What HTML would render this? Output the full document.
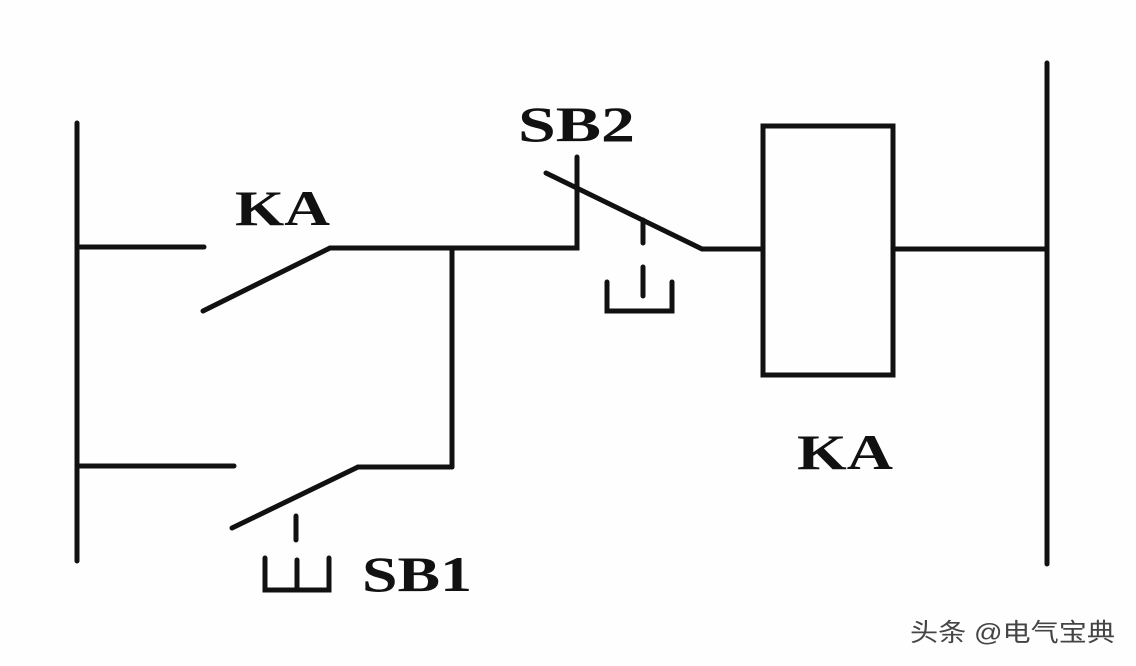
<!DOCTYPE html>
<html><head><meta charset="utf-8"><style>
html,body{margin:0;padding:0;background:#fff;}
svg{display:block}
</style></head><body>
<svg width="1136" height="666" viewBox="0 0 1136 666" xmlns="http://www.w3.org/2000/svg">
<rect width="1136" height="666" fill="#fefefe"/>
<g stroke="#111" stroke-width="5" fill="none" stroke-linecap="round" stroke-linejoin="miter">
<line x1="77" y1="123" x2="77" y2="561"/>
<line x1="1047" y1="63" x2="1047" y2="564"/>
<line x1="80" y1="247" x2="204" y2="247"/>
<line x1="203" y1="311" x2="330" y2="248"/>
<polyline points="330,248 577,248 577,157"/>
<line x1="452" y1="248" x2="452" y2="467"/>
<line x1="80" y1="466" x2="234" y2="466"/>
<line x1="232" y1="528" x2="358" y2="467"/>
<line x1="358" y1="467" x2="452" y2="467"/>
<line x1="296" y1="516" x2="296" y2="540"/>
<polyline points="265,558 265,590 329,590 329,558"/>
<line x1="297" y1="560" x2="297" y2="588"/>
<line x1="546" y1="173" x2="702" y2="249"/>
<line x1="702" y1="249" x2="763" y2="249"/>
<line x1="643" y1="220" x2="643" y2="243"/>
<line x1="643" y1="267" x2="643" y2="296"/>
<polyline points="607,282 607,311 672,311 672,282"/>
<rect x="763" y="126" width="130" height="249"/>
<line x1="893" y1="249" x2="1047" y2="249"/>
</g>
<g font-family="'Liberation Serif',serif" font-weight="bold" font-size="50" fill="#111">
<text x="235" y="225" textLength="95" lengthAdjust="spacingAndGlyphs">KA</text>
<text x="518" y="141" textLength="117" lengthAdjust="spacingAndGlyphs">SB2</text>
<text x="797" y="469" textLength="96" lengthAdjust="spacingAndGlyphs">KA</text>
<text x="362" y="591" textLength="110" lengthAdjust="spacingAndGlyphs">SB1</text>
</g>
<text x="910" y="641" font-family="'Liberation Sans','Noto Sans CJK SC',sans-serif" font-size="25" fill="#444" textLength="205" lengthAdjust="spacingAndGlyphs">头条 @电气宝典</text>
</svg>
</body></html>
